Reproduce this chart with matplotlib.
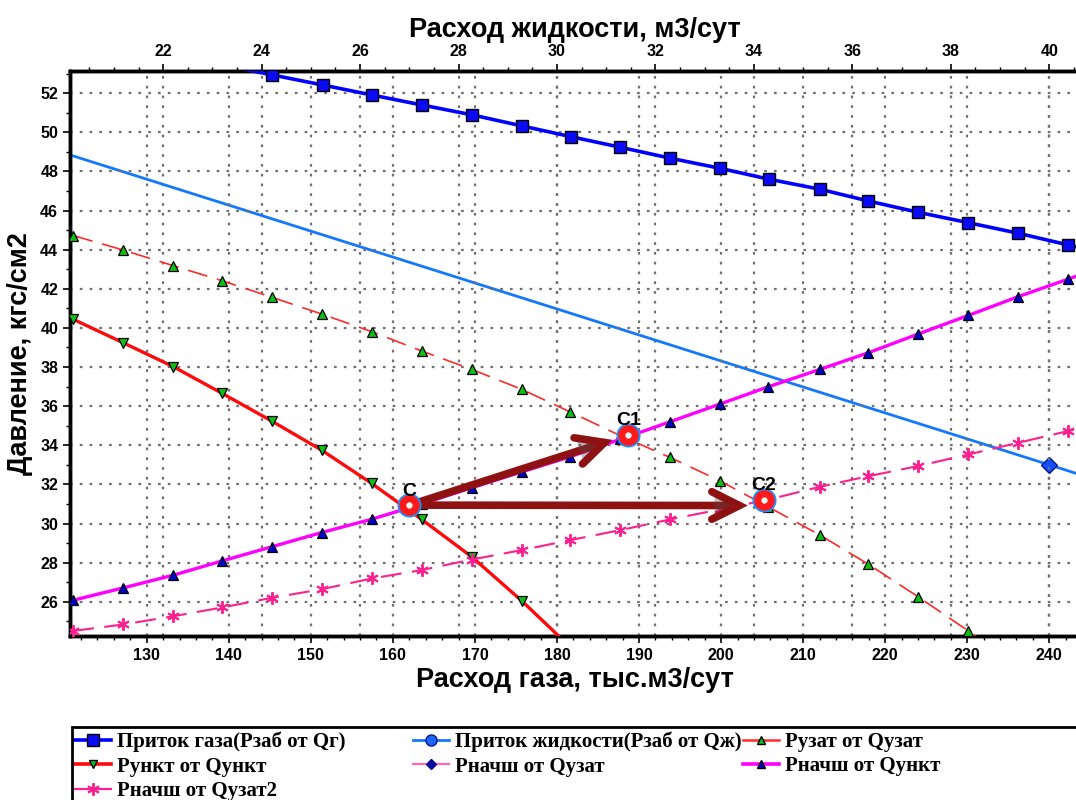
import matplotlib
matplotlib.use("Agg")
import matplotlib.pyplot as plt
import matplotlib.patheffects as pe
from matplotlib.lines import Line2D
from matplotlib.patches import FancyArrowPatch, Rectangle
from matplotlib.ticker import MultipleLocator

# ---------------- data ----------------
# Приток газа (Рзаб от Qг)
q_gas_inflow = [139.15, 145.23, 151.45, 157.42, 163.51, 169.68, 175.70, 181.67, 187.68,
                193.77, 199.87, 205.87, 212.05, 217.94, 224.03, 230.13, 236.22, 242.32, 248.4]
p_gas_inflow = [53.45, 52.94, 52.42, 51.91, 51.40, 50.89, 50.33, 49.78, 49.24,
                48.68, 48.16, 47.60, 47.09, 46.49, 45.91, 45.38, 44.84, 44.24, 43.65]

# Приток жидкости (Рзаб от Qж), liquid rate m3/day
q_liq_inflow = [20.0, 25.0, 30.0, 35.0, 40.0, 41.0]
p_liq_inflow = [48.93, 44.95, 40.97, 36.98, 33.0, 32.2]
q_liq_marker = [40.0]
p_liq_marker = [33.0]

# Рузат от Qузат
q_uzat = [121.05, 127.14, 133.24, 139.21, 145.23, 151.32, 157.42, 163.51, 169.61, 175.70,
          181.58, 187.68, 193.77, 199.87, 205.75, 212.05, 217.94, 224.03, 230.13, 236.2]
p_uzat = [44.72, 43.98, 43.18, 42.41, 41.57, 40.71, 39.81, 38.82, 37.88, 36.86,
          35.71, 34.50, 33.38, 32.18, 30.85, 29.41, 27.92, 26.25, 24.51, 22.6]

# Рункт от Qункт
q_unkt = [121.05, 127.14, 133.24, 139.21, 145.23, 151.32, 157.42, 163.51, 169.61, 175.70, 181.58]
p_unkt = [40.44, 39.24, 38.02, 36.65, 35.24, 33.75, 32.05, 30.21, 28.30, 26.05, 23.7]

# Рначш от Qункт
q_nach_unkt = [121.05, 127.14, 133.24, 139.21, 145.23, 151.32, 157.42, 163.51, 169.61, 175.70,
               181.58, 187.68, 193.77, 199.87, 205.75, 212.05, 217.94, 224.03, 230.13, 236.22,
               242.32, 248.4]
p_nach_unkt = [26.08, 26.71, 27.36, 28.09, 28.81, 29.54, 30.22, 31.0, 31.83, 32.64,
               33.41, 34.30, 35.20, 36.11, 36.99, 37.88, 38.73, 39.69, 40.64, 41.60,
               42.50, 43.4]

# Рначш от Qузат2
q_nach_uzat2 = [121.05, 127.14, 133.24, 139.21, 145.23, 151.32, 157.42, 163.51, 169.61, 175.70,
                181.58, 187.68, 193.77, 199.87, 205.75, 212.05, 217.94, 224.03, 230.13, 236.22,
                242.32, 248.4]
p_nach_uzat2 = [24.51, 24.84, 25.26, 25.71, 26.20, 26.64, 27.19, 27.62, 28.16, 28.64,
                29.15, 29.66, 30.21, 30.72, 31.22, 31.88, 32.42, 32.94, 33.53, 34.13,
                34.73, 35.3]

# operating points
pt_names = ["C", "C1", "C2"]
pt_q = [162.0, 188.7, 205.2]
pt_p = [30.94, 34.55, 31.22]

# arrows: start / end (gas rate, pressure)
arrow_start = [(162.0, 30.94), (162.0, 30.94)]
arrow_end = [(187.1, 34.32), (203.6, 30.92)]

xlim_gas = (120.65, 243.74)
ylim = (24.25, 53.15)
LIQ_PER_GAS = 1.0 / 6.0

labels = ["Приток газа(Рзаб от Qг)", "Приток жидкости(Рзаб от Qж)", "Рузат от Qузат",
          "Рункт от Qункт", "Рначш от Qузат", "Рначш от Qункт", "Рначш от Qузат2"]

# ---------------- figure ----------------
W, H = 1076, 800
fig = plt.figure(figsize=(W / 100, H / 100), dpi=100)
ax_left, ax_right, ax_top, ax_bottom = 70, 1080, 70.7, 636
ax = fig.add_axes([ax_left / W, 1 - ax_bottom / H, (ax_right - ax_left) / W, (ax_bottom - ax_top) / H])
ax2 = ax.twiny()
ax2.set_zorder(0)
ax.set_zorder(1)
ax.patch.set_visible(False)
ax2.patch.set_facecolor("white")

tick_font = ["Liberation Sans Narrow", "Liberation Sans", "DejaVu Sans"]
label_font = ["Liberation Sans", "DejaVu Sans"]
leg_font = ["Liberation Serif", "DejaVu Serif"]

grid_kw = dict(color="#707070", linestyle=(0, (1.2, 3.2)), linewidth=1.6)

ax.set_xlim(*xlim_gas)
ax.set_ylim(*ylim)
ax2.set_xlim(xlim_gas[0] * LIQ_PER_GAS, xlim_gas[1] * LIQ_PER_GAS)
ax2.set_ylim(*ylim)

ax.xaxis.set_major_locator(MultipleLocator(10))
ax.xaxis.set_minor_locator(MultipleLocator(2))
ax.yaxis.set_major_locator(MultipleLocator(2))
ax.yaxis.set_minor_locator(MultipleLocator(1))
ax2.xaxis.set_major_locator(MultipleLocator(2))
ax2.xaxis.set_minor_locator(MultipleLocator(0.5))

ax.grid(True, which="major", **grid_kw)
ax2.grid(True, which="major", axis="x", **grid_kw)
ax2.tick_params(axis="y", left=False, labelleft=False)

for a in (ax, ax2):
    for s in a.spines.values():
        s.set_linewidth(2.5)
        s.set_color("black")
ax.tick_params(axis="both", which="major", direction="out", length=5, width=1.2, colors="black")
ax.tick_params(axis="both", which="minor", direction="out", length=3, width=1.0)
ax2.tick_params(axis="x", which="major", direction="out", length=5, width=1.2)
ax2.tick_params(axis="x", which="minor", direction="out", length=3, width=1.0)

for lab in ax.get_xticklabels() + ax.get_yticklabels() + ax2.get_xticklabels():
    lab.set_fontfamily(tick_font)
    lab.set_fontweight("bold")
    lab.set_fontsize(11.5)

ax.set_xlabel("Расход газа, тыс.м3/сут", fontsize=19.5, fontweight="bold", family=label_font, labelpad=3)
ax2.set_xlabel("Расход жидкости, м3/сут", fontsize=19.5, fontweight="bold", family=label_font, labelpad=5)
ax.set_ylabel("Давление, кгс/см2", fontsize=19.5, fontweight="bold", family=label_font, labelpad=5)

# ---------------- series ----------------
ax.plot(q_gas_inflow, p_gas_inflow, color="#0000FF", lw=2.6, marker="s", ms=9,
        mfc="#0A0AF5", mec="black", mew=1.0, zorder=5)

ax2.plot(q_liq_inflow, p_liq_inflow, color="#1478FF", lw=2.0, zorder=3)
ax2.plot(q_liq_marker, p_liq_marker, ls="none", marker="D", ms=8, mfc="#1450FF",
         mec="#0A1A80", mew=1.0, zorder=6)

ax.plot(q_uzat, p_uzat, color="#FF2A2A", lw=1.2, dashes=(12, 6), marker="^", ms=7,
        mfc="#10C010", mec="black", mew=0.9, zorder=4)

ax.plot(q_unkt, p_unkt, color="#FF0A0A", lw=2.4, marker="v", ms=7,
        mfc="#10C010", mec="black", mew=0.9, zorder=4)

ax.plot(q_nach_unkt, p_nach_unkt, color="#FF00FF", lw=2.4, marker="^", ms=7,
        mfc="#0000CC", mec="black", mew=0.9, zorder=4)

ax.plot(q_nach_uzat2, p_nach_uzat2, color="#FF2090", lw=1.5, dashes=(10, 5),
        marker=(6, 2, 0), ms=9, mec="#FF2090", mew=1.4, zorder=4)

# arrows
for (x0, y0), (x1, y1) in zip(arrow_start, arrow_end):
    arr = FancyArrowPatch((x0, y0), (x1, y1), arrowstyle="->,head_length=0.9,head_width=0.45",
                          mutation_scale=22, color="#8E1212", lw=5.5, zorder=7,
                          capstyle="round", joinstyle="miter",
                          path_effects=[pe.withSimplePatchShadow(offset=(2, -2), alpha=0.35)])
    ax.add_patch(arr)

# operating points
ax.plot(pt_q, pt_p, ls="none", marker="o", ms=16, mfc="#FF1A1A", mec="#1E90FF",
        mew=1.3, zorder=8)
ax.plot(pt_q, pt_p, ls="none", marker="o", ms=3.5, mfc="white", mec="white", zorder=9)
for name, q, p in zip(pt_names, pt_q, pt_p):
    ax.annotate(name, (q, p), xytext=(0, 10), textcoords="offset points", ha="center",
                va="center", fontsize=14, fontweight="bold", family=label_font, zorder=9)

# ---------------- legend ----------------
def handle(color, lw, marker, mfc, mec="black", ms=7, ls="-"):
    return Line2D([], [], color=color, lw=lw, ls=ls, marker=marker, mfc=mfc, mec=mec, ms=ms)

h = [
    handle("#0000FF", 2.6, "s", "#0A0AF5", ms=8),
    handle("#1478FF", 2.0, "o", "#1E64FF", mec="#0A1A80", ms=8),
    handle("#FF2A2A", 1.8, "^", "#10C010", ms=6),
    handle("#FF0A0A", 2.6, "v", "#10C010", ms=6),
    handle("#FF69B4", 1.6, "D", "#0A0AA0", mec="#0A0AA0", ms=5),
    handle("#FF00FF", 2.6, "^", "#0000CC", ms=6),
    Line2D([], [], color="#FF2090", lw=1.6, marker=(6, 2, 0), ms=9, mec="#FF2090", mew=1.4),
]

# legend box frame
fig.add_artist(Rectangle((72 / W, -0.05), (1090 - 72) / W, 0.05 + 1 - 727 / H,
                         transform=fig.transFigure, fill=False, edgecolor="black",
                         linewidth=2.0, zorder=10))

legend_columns = [[0, 3, 6], [1, 4], [2, 5]]
column_x = [75, 413, 743]
leg_top = 732
for idx, x0 in zip(legend_columns, column_x):
    lg = fig.legend([h[i] for i in idx], [labels[i] for i in idx], loc="upper left",
                    bbox_to_anchor=(x0 / W, 1 - leg_top / H), frameon=False,
                    borderpad=0, borderaxespad=0, handlelength=1.75, handletextpad=0.25,
                    labelspacing=0.2, prop=dict(family=leg_font, weight="bold", size=15))

fig.savefig("out.png", dpi=100)
